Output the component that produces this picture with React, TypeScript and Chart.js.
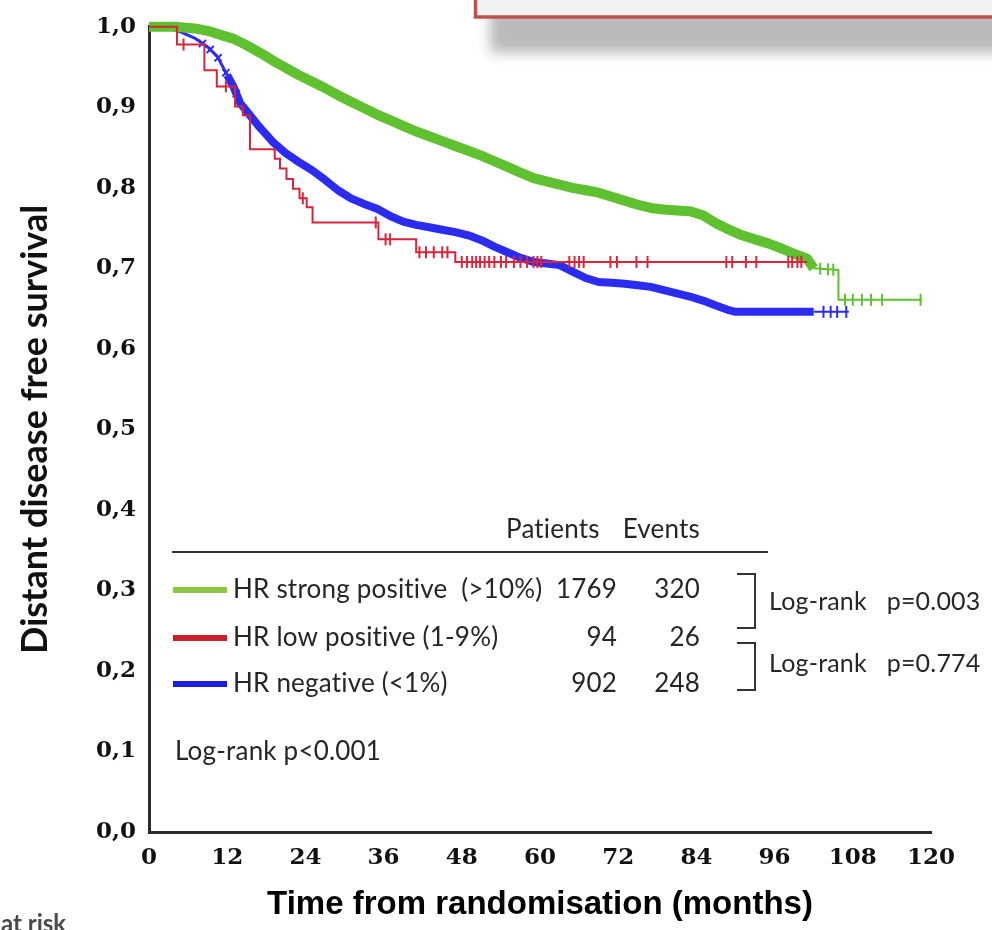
import React, { useEffect, useRef } from 'react';
import { Chart, registerables } from 'chart.js';

Chart.register(...registerables);

// ---- axes ----
const xTickLabels = ['0', '12', '24', '36', '48', '60', '72', '84', '96', '108', '120'];
const yTickLabels = ['0,0', '0,1', '0,2', '0,3', '0,4', '0,5', '0,6', '0,7', '0,8', '0,9', '1,0'];
const xTitle = 'Time from randomisation (months)';
const yTitle = 'Distant disease free survival';

// ---- HR strong positive (>10%) ----
const strongMonths = [0, 4, 7, 9, 11, 13, 15, 17, 19, 21, 23, 25, 27, 29, 31, 33, 35, 37, 39, 41, 43, 45, 47, 49, 51, 53, 55, 57, 59, 61, 63, 65, 67, 69, 71, 73, 75, 77, 79, 81, 83, 85, 87, 89, 91, 93, 95, 97, 99, 101, 102, 105.8, 105.8, 118.6];
const strongSurv = [1.0, 1.0, 0.998, 0.995, 0.99, 0.985, 0.977, 0.968, 0.958, 0.949, 0.94, 0.932, 0.924, 0.915, 0.907, 0.899, 0.891, 0.884, 0.877, 0.87, 0.864, 0.858, 0.852, 0.846, 0.84, 0.833, 0.826, 0.819, 0.812, 0.808, 0.804, 0.8, 0.797, 0.794, 0.789, 0.784, 0.779, 0.775, 0.773, 0.772, 0.771, 0.766, 0.756, 0.748, 0.741, 0.736, 0.731, 0.725, 0.718, 0.712, 0.7, 0.698, 0.661, 0.661];
const strongCensor = [103, 104.2, 105, 106.8, 108, 109.4, 110.8, 112.5, 118.4];

// ---- HR low positive (1-9%) ----
const lowMonths = [0, 4.3, 8.5, 10.4, 13.2, 14.4, 15.5, 19.3, 20.1, 21.1, 22.1, 23.1, 24.2, 25.1, 35.2, 41, 47, 101];
const lowSurv = [1.0, 0.978, 0.946, 0.926, 0.901, 0.89, 0.848, 0.836, 0.824, 0.811, 0.799, 0.787, 0.776, 0.757, 0.736, 0.72, 0.708, 0.708];
const lowCensor = [5.3, 11.8, 23.6, 34.8, 36.3, 37.0, 41.5, 42.5, 43.7, 45.0, 45.8, 48, 48.8, 49.6, 50.2, 50.8, 51.5, 52.2, 53, 54, 54.8, 56, 57, 58, 59, 59.6, 60.2, 64.5, 65.3, 66, 66.7, 70.8, 71.8, 74.8, 76.5, 88.6, 89.5, 91.6, 93.2, 98.1, 98.7, 99.5, 100.1];

// ---- HR negative (<1%) ----
const negMonths = [0, 3, 5, 7, 9, 10.5, 12, 13, 14, 15.5, 17, 19, 21, 23, 25, 27, 29, 31, 33, 35, 37, 39, 41, 43, 45, 47, 49, 51, 53, 55, 57, 59, 61, 63, 65, 67, 69, 71, 73, 75, 77, 79, 81, 83, 85, 87, 89, 90, 102, 107.4];
const negSurv = [1.0, 0.998, 0.993, 0.986, 0.975, 0.963, 0.94, 0.925, 0.905, 0.89, 0.875, 0.857, 0.843, 0.832, 0.822, 0.81, 0.797, 0.787, 0.78, 0.774, 0.765, 0.758, 0.754, 0.751, 0.748, 0.745, 0.741, 0.735, 0.727, 0.72, 0.713, 0.708, 0.706, 0.704, 0.696, 0.688, 0.683, 0.682, 0.681, 0.679, 0.677, 0.673, 0.669, 0.665, 0.66, 0.654, 0.648, 0.646, 0.646, 0.646];
const negEarlyCensor = [8.2, 9.4, 10.6, 11.8, 13.4];
const negCensor = [103.5, 104.6, 105.6, 107];

// ---- legend table ----
const legendHeader = ['Patients', 'Events'];
const legendLabels = ['HR strong positive  (>10%)', 'HR low positive (1-9%)', 'HR negative (<1%)'];
const legendPatients = ['1769', '94', '902'];
const legendEvents = ['320', '26', '248'];
const pairTests = ['Log-rank   p=0.003', 'Log-rank   p=0.774'];
const overallTest = 'Log-rank p<0.001';
const cornerNote = 'at risk';

const curveColors = ['#5FC030', '#D8253C', '#2B2BF2'];
const swatchColors = ['#8DC63F', '#C8202C', '#1E1EE0'];

function pts(xs: number[], ys: number[]) {
  return xs.map((x, i) => ({ x, y: ys[i] }));
}
function interp(xs: number[], ys: number[], t: number) {
  let v = ys[0];
  for (let i = 1; i < xs.length; i++) {
    if (xs[i] <= t) v = ys[i];
    else {
      const span = xs[i] - xs[i - 1];
      if (span > 0) v = ys[i - 1] + (ys[i] - ys[i - 1]) * (t - xs[i - 1]) / span;
      break;
    }
  }
  return v;
}
function stepAt(xs: number[], ys: number[], t: number) {
  let v = ys[0];
  for (let i = 0; i < xs.length; i++) if (xs[i] <= t) v = ys[i];
  return v;
}

const decorPlugin = {
  id: 'decor',
  afterDraw(chart: any) {
    const ctx = chart.ctx as any;
    ctx.save();

    // callout box at the top right
    ctx.save();
    ctx.shadowColor = 'rgba(0,0,0,0.27)';
    ctx.shadowBlur = 12;
    ctx.shadowOffsetX = 16;
    ctx.shadowOffsetY = 35;
    ctx.fillStyle = '#f1f1f1';
    ctx.fillRect(474, -80, 640, 98);
    ctx.restore();
    ctx.strokeStyle = '#C0504D';
    ctx.lineWidth = 3.5;
    ctx.strokeRect(475.5, -80, 640, 97);

    const txt = '#262626';
    ctx.fillStyle = txt;
    ctx.textBaseline = 'middle';
    ctx.font = '26px Lato';
    try { ctx.letterSpacing = '0.2px'; } catch (e) { /* ignore */ }

    // header
    ctx.textAlign = 'left';
    ctx.fillText(legendHeader[0], 506, 530);
    ctx.textAlign = 'right';
    ctx.fillText(legendHeader[1], 700, 530);

    // rule
    ctx.strokeStyle = '#333';
    ctx.lineWidth = 2;
    ctx.beginPath();
    ctx.moveTo(172, 552);
    ctx.lineTo(768, 552);
    ctx.stroke();

    const rowY = [590, 638, 684];
    for (let i = 0; i < 3; i++) {
      ctx.strokeStyle = swatchColors[i];
      ctx.lineWidth = 6;
      ctx.beginPath();
      ctx.moveTo(173, rowY[i]);
      ctx.lineTo(227, rowY[i]);
      ctx.stroke();
      ctx.fillStyle = txt;
      ctx.textAlign = 'left';
      ctx.fillText(legendLabels[i], 233, rowY[i]);
      ctx.textAlign = 'right';
      ctx.fillText(legendPatients[i], 617, rowY[i]);
      ctx.fillText(legendEvents[i], 700, rowY[i]);
    }

    ctx.textAlign = 'left';
    ctx.fillText(overallTest, 175, 752);

    // brackets
    ctx.strokeStyle = '#333';
    ctx.lineWidth = 2;
    ctx.beginPath();
    ctx.moveTo(737, 574); ctx.lineTo(755, 574); ctx.lineTo(755, 628); ctx.lineTo(737, 628);
    ctx.moveTo(737, 643); ctx.lineTo(755, 643); ctx.lineTo(755, 690); ctx.lineTo(737, 690);
    ctx.stroke();
    ctx.font = '25px Lato';
    ctx.fillText(pairTests[0], 769, 602);
    ctx.fillText(pairTests[1], 769, 664);

    // cut-off note bottom left
    try { ctx.letterSpacing = '0px'; } catch (e) { /* ignore */ }
    ctx.font = 'bold 24px Lato';
    ctx.fillStyle = '#4a4a4a';
    ctx.textBaseline = 'alphabetic';
    ctx.fillText(cornerNote, 1, 932);

    ctx.restore();
  },
};

export default function App() {
  const ref = useRef<HTMLCanvasElement | null>(null);

  useEffect(() => {
    if (!ref.current) return;
    const censorSet = (xs: number[], ys: number[], times: number[], color: string, stepped: boolean, style: any = 'line', rot = 90, r = 6) => ({
      data: times.map((t) => ({ x: t, y: stepped ? stepAt(xs, ys, t) : interp(xs, ys, t) })),
      showLine: false,
      pointStyle: style,
      pointRotation: rot,
      pointRadius: r,
      pointBorderWidth: 2,
      pointBorderColor: color,
      pointBackgroundColor: color,
      borderColor: color,
      clip: false,
    });

    const tickFont = { family: 'DejaVu Serif', weight: 'bold', size: 23 };

    const chart = new Chart(ref.current, {
      type: 'line',
      data: {
        datasets: [
          censorSet(lowMonths, lowSurv, lowCensor, curveColors[1], true),
          {
            data: pts(lowMonths, lowSurv),
            stepped: true,
            borderColor: curveColors[1],
            borderWidth: 2,
            pointRadius: 0,
            clip: false,
          },
          censorSet(strongMonths, strongSurv, strongCensor, curveColors[0], false, 'line', 90, 6),
          {
            data: pts(strongMonths, strongSurv),
            borderColor: curveColors[0],
            borderWidth: 8,
            borderJoinStyle: 'round',
            pointRadius: 0,
            clip: false,
            segment: { borderWidth: (c: any) => (c.p0.parsed.x < 101.5 ? 10 : 2) },
          },
          censorSet(negMonths, negSurv, negCensor, curveColors[2], false, 'line', 90, 6),
          censorSet(negMonths, negSurv, negEarlyCensor, curveColors[2], false, 'crossRot', 0, 5),
          {
            data: pts(negMonths, negSurv),
            borderColor: curveColors[2],
            borderWidth: 7,
            borderJoinStyle: 'round',
            pointRadius: 0,
            clip: false,
            segment: { borderWidth: (c: any) => (c.p0.parsed.x < 11 ? 3 : c.p0.parsed.x < 101 ? 8 : 2) },
          },
        ] as any,
      },
      options: {
        animation: false,
        responsive: false,
        devicePixelRatio: 1,
        layout: { padding: { left: 0, top: 20, right: 61, bottom: 0 } },
        plugins: { legend: { display: false }, tooltip: { enabled: false } },
        scales: {
          x: {
            type: 'linear',
            min: 0,
            max: 120,
            afterFit: (s: any) => { s.height = 98; },
            afterBuildTicks: (s: any) => { s.ticks = xTickLabels.map((_, i) => ({ value: i * 12 })); },
            grid: { display: false, drawTicks: false },
            border: { display: true, color: '#2a2a2a', width: 3 },
            ticks: {
              autoSkip: false,
              maxRotation: 0,
              padding: 12,
              color: '#111',
              font: tickFont,
              callback: (v: any) => xTickLabels[Math.round(Number(v) / 12)] ?? '',
            },
            title: {
              display: true,
              text: xTitle,
              color: '#000',
              font: { family: 'Liberation Sans', weight: 'bold', size: 33 },
              padding: { top: 0, bottom: 5 },
            },
          },
          y: {
            min: 0,
            max: 1,
            afterFit: (s: any) => { s.width = 149; },
            afterBuildTicks: (s: any) => { s.ticks = yTickLabels.map((_, i) => ({ value: i / 10 })); },
            grid: { display: false, drawTicks: false },
            border: { display: true, color: '#2a2a2a', width: 3 },
            ticks: {
              padding: 13,
              color: '#111',
              font: tickFont,
              callback: (v: any) => yTickLabels[Math.round(Number(v) * 10)] ?? '',
            },
            title: {
              display: true,
              text: yTitle,
              color: '#111',
              font: { family: 'Lato', weight: 'bold', size: 36 },
              padding: { top: 14, bottom: 0 },
            },
          },
        },
      } as any,
      plugins: [decorPlugin],
    });
    return () => chart.destroy();
  }, []);

  return (
    <div style={{ position: 'absolute', left: 0, top: 0, width: 992, height: 930, background: '#fff' }}>
      <canvas ref={ref} width={992} height={930} style={{ display: 'block', width: 992, height: 930 }} />
    </div>
  );
}
